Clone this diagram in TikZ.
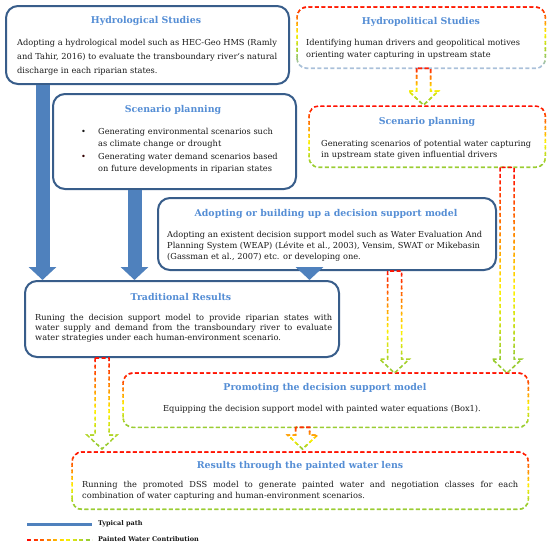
\documentclass[tikz,border=0pt]{standalone}
\usepackage{fontspec}
\setmainfont{DejaVu Serif}
\usetikzlibrary{arrows.meta,calc}
\definecolor{boxblue}{HTML}{385D8A}
\definecolor{titleblue}{HTML}{558ED5}
\definecolor{arrowblue}{HTML}{4F81BD}
\definecolor{textblack}{HTML}{1A1A1A}
\definecolor{gred}{HTML}{FF0000}
\definecolor{gyellow}{HTML}{FFF200}
\definecolor{ggreen}{HTML}{9ACD32}
\definecolor{gblue}{HTML}{A9C0DA}
\newcommand\gradcolor[2]{%
  \ifcase#1\relax
  \or
    \ifdim#2pt<0.6pt
      \pgfmathsetmacro\gp{100*#2/0.6}\colorlet{gc}{gyellow!\gp!gred}%
    \else
      \pgfmathsetmacro\gp{min(100,100*(#2-0.6)/0.32)}\colorlet{gc}{ggreen!\gp!gyellow}%
    \fi
  \or
    \ifdim#2pt<0.45pt
      \pgfmathsetmacro\gp{100*#2/0.45}\colorlet{gc}{gyellow!\gp!gred}%
    \else\ifdim#2pt<0.75pt
      \pgfmathsetmacro\gp{100*(#2-0.45)/0.3}\colorlet{gc}{ggreen!\gp!gyellow}%
    \else
      \pgfmathsetmacro\gp{min(100,100*(#2-0.75)/0.2)}\colorlet{gc}{gblue!\gp!ggreen}%
    \fi\fi
  \fi}
\newcommand\gradpath[4]{%
  \foreach \gi in {0,...,29}{%
    \pgfmathsetmacro\gya{#1+(#2-#1)*\gi/30}%
    \pgfmathsetmacro\gyb{#1+(#2-#1)*(\gi+1)/30}%
    \pgfmathsetmacro\gt{(\gi+0.5)/30}%
    \gradcolor{#3}{\gt}%
    \begin{scope}
      \clip (-20,\gya-0.05) rectangle (620,\gyb+0.05);
      \draw[gline,draw=gc] #4;
    \end{scope}%
  }%
}
\newcommand\hollow[4]{\gradpath{#3}{#4}{1}{([xshift=-7pt]#1) -- ([xshift=-7pt,yshift=14pt]#2) -- ([xshift=-15pt,yshift=14pt]#2) -- (#2) -- ([xshift=15pt,yshift=14pt]#2) -- ([xshift=7pt,yshift=14pt]#2) -- ([xshift=7pt]#1) -- cycle}}
\tikzset{
  bluebox/.style={draw=boxblue, line width=2pt, rounded corners=12pt, fill=white, inner sep=0pt, anchor=north west},
  gbox/.style={inner sep=0pt, anchor=north west},
  gline/.style={line width=1.5pt, dash pattern=on 4pt off 2.5pt},
  ttl/.style={inner sep=0pt, anchor=base, text=titleblue, font=\bfseries\fontsize{9.4}{11}\selectfont},
  body/.style={inner sep=0pt, anchor=north west, align=left, text=textblack, font=\fontsize{8.25}{#1}\selectfont},
  bluearrow/.style={draw=arrowblue, line width=14pt, -{Triangle[width=27pt,length=13pt]}},
  legend/.style={inner sep=0pt, anchor=west, text=textblack, font=\bfseries\fontsize{6.5}{8}\selectfont}
}
\begin{document}
\begin{tikzpicture}[x=1pt,y=-1pt]
\useasboundingbox[fill=white] (0,0) rectangle (550,546);
% boxes
\node[bluebox, minimum width=283pt, minimum height=78pt] (hydro) at (5,5) {};
\node[gbox, minimum width=248pt, minimum height=61pt] (hp) at (297,7) {};
\node[bluebox, minimum width=243pt, minimum height=95pt] (spl) at (52,93) {};
\node[gbox, minimum width=236pt, minimum height=61pt] (spr) at (309,106) {};
\node[bluebox, minimum width=338pt, minimum height=72pt] (adopt) at (157,197) {};
\node[bluebox, minimum width=314pt, minimum height=76pt] (trad) at (24,280) {};
\node[gbox, minimum width=405pt, minimum height=54pt] (prom) at (123,373) {};
\node[gbox, minimum width=456pt, minimum height=57pt] (res) at (72,452) {};
% gradient dashed borders
\gradpath{4}{70}{2}{[rounded corners=10pt] (hp.south west) rectangle (hp.north east)}
\gradpath{104}{169}{1}{[rounded corners=10pt] (spr.south west) rectangle (spr.north east)}
\gradpath{371}{429}{1}{[rounded corners=10pt] (prom.south west) rectangle (prom.north east)}
\gradpath{450}{511}{1}{[rounded corners=10pt] (res.south west) rectangle (res.north east)}
% titles
\node[ttl] (hydroT) at (146,23.5) {Hydrological Studies};
\node[ttl] (hpT) at (421,24.5) {Hydropolitical Studies};
\node[ttl] (splT) at (173,112.5) {Scenario planning};
\node[ttl] (sprT) at (427,124.5) {Scenario planning};
\node[ttl] (adoptT) at (326,216.5) {Adopting or building up a decision support model};
\node[ttl] (tradT) at (181,300.5) {Traditional Results};
\node[ttl] (promT) at (325,390.5) {Promoting the decision support model};
\node[ttl] (resT) at (300,468) {Results through the painted water lens};
% bodies
\node[body=14] (hydroB) at (17,39.5) {Adopting a hydrological model such as HEC-Geo HMS (Ramly\\and Tahir, 2016) to evaluate the transboundary river`s natural\\discharge in each riparian states.};
\node[body=11.8] (hpB) at (306,39.3) {Identifying human drivers and geopolitical motives\\orienting water capturing in upstream state};
\node[body=12.3] (splB) at (81,128) {\makebox[17pt][l]{•}Generating environmental scenarios such\\\hspace*{17pt}as climate change or drought\\\makebox[17pt][l]{\textcolor{black!80!red}{•}}Generating water demand scenarios based\\\hspace*{17pt}on future developments in riparian states};
\node[body=11.5] (sprB) at (321,139.7) {Generating scenarios of potential water capturing\\in upstream state given influential drivers};
\node[body=11] (adoptB) at (167,231) {Adopting an existent decision support model such as Water Evaluation And\\Planning System (WEAP) (Lévite et al., 2003), Vensim, SWAT or Mikebasin\\(Gassman et al., 2007) etc. or developing one.};
\node[body=9.6] (tradB) at (35,314.4) {\makebox[297pt][s]{Runing the decision support model to provide riparian states with}\\\makebox[297pt][s]{water supply and demand from the transboundary river to evaluate}\\water strategies under each human-environment scenario.};
\node[body=11, anchor=base] (promB) at (322,411) {Equipping the decision support model with painted water equations (Box1).};
\node[body=10.6] (resB) at (82,481.4) {\makebox[436pt][s]{Running the promoted DSS model to generate painted water and negotiation classes for each}\\combination of water capturing and human-environment scenarios.};
% blue arrows
\draw[bluearrow] (42.5,0 |- hydro.south) -- (42.5,0 |- trad.north);
\draw[bluearrow] (134.5,0 |- spl.south) -- (134.5,0 |- trad.north);
\draw[bluearrow] (309.5,0 |- adopt.south) -- (309.5,0 |- trad.north);
% hollow dashed arrows
\coordinate (aA1) at (423.5,0 |- hp.south);
\coordinate (aA2) at ($(423.5,0 |- spr.north)+(0,-1)$);
\coordinate (aB1) at (507,0 |- spr.south);
\coordinate (aB2) at (507,0 |- prom.north);
\coordinate (aC1) at (394.5,0 |- adopt.south);
\coordinate (aC2) at (394.5,0 |- prom.north);
\coordinate (aD1) at (102,0 |- trad.south);
\coordinate (aD2) at ($(102,0 |- res.north)+(0,-3)$);
\coordinate (aE1) at (302.5,0 |- prom.south);
\coordinate (aE2) at ($(302.5,0 |- res.north)+(0,-3)$);
\hollow{aA1}{aA2}{66}{106}
\hollow{aB1}{aB2}{165}{375}
\hollow{aC1}{aC2}{267}{375}
\hollow{aD1}{aD2}{354}{451}
\hollow{aE1}{aE2}{425}{451}
% legend
\coordinate (lg1a) at (27,524);
\coordinate (lg1b) at (92,524);
\draw[arrowblue, line width=3pt] (lg1a) -- (lg1b);
\node[legend] (lgT1) at (98,524) {Typical path};
\coordinate (lg2a) at (27,540);
\coordinate (lg2b) at (92,540);
\foreach \gi in {0,...,19}{%
  \pgfmathsetmacro\gxa{27+65*\gi/20}%
  \pgfmathsetmacro\gxb{27+65*(\gi+1)/20}%
  \pgfmathsetmacro\gt{(\gi+0.5)/20}%
  \gradcolor{1}{\gt}%
  \begin{scope}
    \clip (\gxa-0.05,530) rectangle (\gxb+0.05,550);
    \draw[gc, line width=2.2pt, dash pattern=on 4pt off 2.5pt] (lg2a) -- (lg2b);
  \end{scope}}
\node[legend] (lgT2) at (98,539) {Painted Water Contribution};
\end{tikzpicture}
\end{document}
